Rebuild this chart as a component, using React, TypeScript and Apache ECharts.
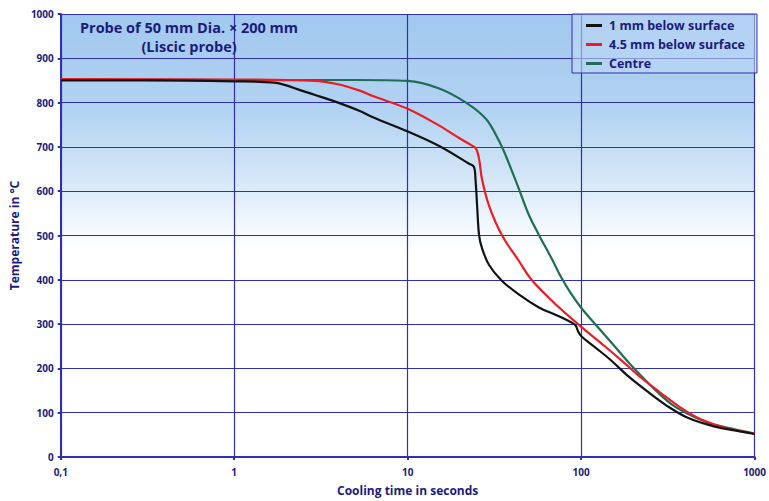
import React, { useEffect, useRef } from "react";
import * as echarts from "echarts";

const xTickLabels: Record<string, string> = { "0.1": "0,1", "1": "1", "10": "10", "100": "100", "1000": "1000" };

const surface1mm: [number, number][] = [
  [0.1, 850], [0.3, 850], [1, 848], [1.7, 845], [2.5, 826], [3.1, 814], [3.9, 801],
  [5.3, 781], [6.3, 767], [10, 735], [15.2, 702], [22.6, 662], [24.1, 655], [24.6, 628],
  [25.2, 560], [25.8, 501], [26.8, 472], [29.4, 434], [34.9, 398], [43.7, 367],
  [56.8, 338], [70, 322], [81, 311], [92.5, 298], [96, 284], [100, 273], [120, 248],
  [148, 219], [186, 183], [241, 148], [314, 115], [409, 89], [583, 69], [821, 58], [1000, 52],
];

const surface45mm: [number, number][] = [
  [0.1, 853], [1, 852], [2.9, 849], [3.9, 842], [5.3, 827], [6.3, 815], [10, 786],
  [15.2, 748], [19.8, 720], [23.5, 703], [24.8, 696], [25.8, 673], [26.8, 628],
  [29.4, 568], [34.9, 501], [43.7, 443], [51.8, 400], [69, 350], [96, 300], [137, 250],
  [178, 212], [220, 180], [287, 145], [373, 112], [485, 86], [692, 65], [1000, 53],
];

const centre: [number, number][] = [
  [0.1, 852], [1, 851], [5, 851], [10, 849], [15.2, 832], [21.7, 800], [28.3, 763],
  [33.6, 714], [36.8, 680], [43.7, 606], [49.8, 548], [56.8, 503], [67.4, 449],
  [76.9, 405], [87.7, 368], [100, 337], [120, 301], [156, 250], [193, 208], [251, 162],
  [327, 121], [409, 98], [553, 76], [759, 63], [1000, 53],
];

const seriesNames = ["1 mm below surface", "4.5 mm below surface", "Centre"];
const seriesColors = ["#121212", "#ec1c24", "#1d6e55"];

const navy = "#1b1b7e";
const gridBlue = "#2f2fb5";
const font = "Open Sans";

export default function App() {
  const ref = useRef<HTMLDivElement>(null);
  useEffect(() => {
    if (!ref.current) return;
    const chart = echarts.init(ref.current, undefined, { renderer: "svg" });
    const datas = [surface1mm, surface45mm, centre];
    const titleStyle = { fontFamily: font, fontWeight: "bold", fontSize: 14.5, color: navy, lineHeight: 18 };
    chart.setOption({
      animation: false,
      backgroundColor: "#ffffff",
      title: {
        text: "Probe of 50 mm Dia. × 200 mm",
        subtext: "(Liscic probe)",
        itemGap: 1,
        left: 184,
        top: 13,
        textAlign: "center",
        textStyle: titleStyle,
        subtextStyle: titleStyle,
      },
      grid: {
        left: 58,
        right: 12,
        top: 14,
        bottom: 40,
        show: true,
        borderWidth: 0,
        backgroundColor: new echarts.graphic.LinearGradient(0, 0, 0, 1, [
          { offset: 0, color: "#a1c8ee" },
          { offset: 0.22, color: "#b3d3f2" },
          { offset: 0.36, color: "#d2e5f7" },
          { offset: 0.47, color: "#f0f7fd" },
          { offset: 0.54, color: "#ffffff" },
          { offset: 1, color: "#ffffff" },
        ]),
      },
      legend: {
        left: 572,
        top: 14,
        orient: "vertical",
        padding: [4, 12, 2, 14],
        itemGap: 4,
        itemWidth: 16,
        itemHeight: 3,
        icon: "rect",
        backgroundColor: "rgba(190,215,245,0.6)",
        borderColor: gridBlue,
        borderWidth: 1,
        textStyle: { fontFamily: font, fontWeight: "bold", fontSize: 12.5, lineHeight: 15, color: navy, padding: [0, 0, 0, 2] },
        data: seriesNames,
      },
      xAxis: {
        type: "log",
        logBase: 10,
        min: 0.1,
        max: 1000,
        name: "Cooling time in seconds",
        nameLocation: "middle",
        nameGap: 27,
        nameTextStyle: { fontFamily: font, fontWeight: "bold", fontSize: 12, color: navy },
        axisLine: { show: true, lineStyle: { color: gridBlue, width: 2 } },
        axisTick: { show: true, length: 3, lineStyle: { color: gridBlue, width: 2 } },
        axisLabel: {
          margin: 10,
          fontFamily: font,
          fontSize: 10,
          fontWeight: "bold",
          color: navy,
          formatter: (v: number) => {
            const k = String(Math.round(v * 10) / 10);
            return xTickLabels[k] ?? k;
          },
        },
        splitLine: { show: true, lineStyle: { color: gridBlue, width: 1.2 } },
        minorTick: { show: false },
      },
      yAxis: {
        type: "value",
        min: 0,
        max: 1000,
        interval: 100,
        name: "Temperature in °C",
        nameLocation: "middle",
        nameGap: 35,
        nameRotate: 90,
        nameTextStyle: { fontFamily: font, fontWeight: "bold", fontSize: 12, color: navy },
        axisLine: { show: true, lineStyle: { color: gridBlue, width: 2 } },
        axisTick: { show: true, length: 3, lineStyle: { color: gridBlue, width: 2 } },
        axisLabel: {
          margin: 7,
          fontFamily: font,
          fontSize: 10,
          fontWeight: "bold",
          color: navy,
          formatter: (v: number) => String(v),
        },
        splitLine: { show: true, lineStyle: { color: gridBlue, width: 1.2 } },
      },
      series: datas.map((d, i) => ({
        name: seriesNames[i],
        type: "line",
        data: d,
        showSymbol: false,
        smooth: 0.35,
        z: 3 - i,
        lineStyle: { color: seriesColors[i], width: 2.2 },
        itemStyle: { color: seriesColors[i] },
      })),
    });
    return () => chart.dispose();
  }, []);
  return <div ref={ref} style={{ width: 769, height: 501, position: "fixed", left: 0, top: 0 }} />;
}
